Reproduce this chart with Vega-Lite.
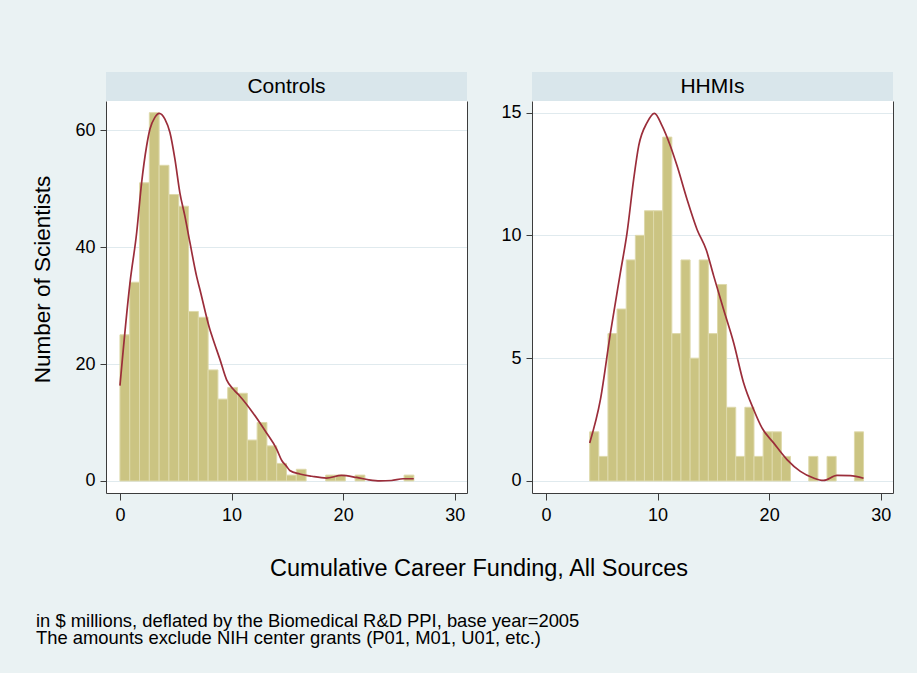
{
  "$schema": "https://vega.github.io/schema/vega-lite/v6.json",
  "background": "#EAF2F3",
  "padding": {"left": 31, "top": 72, "right": 24, "bottom": 26},
  "datasets": {
    "ctrl_bins": [
      {"x0": 0, "x1": 0.878, "count": 25}, {"x0": 0.878, "x1": 1.756, "count": 34},
      {"x0": 1.756, "x1": 2.634, "count": 51}, {"x0": 2.634, "x1": 3.512, "count": 63},
      {"x0": 3.512, "x1": 4.39, "count": 54}, {"x0": 4.39, "x1": 5.268, "count": 49},
      {"x0": 5.268, "x1": 6.146, "count": 47}, {"x0": 6.146, "x1": 7.024, "count": 29},
      {"x0": 7.024, "x1": 7.902, "count": 28}, {"x0": 7.902, "x1": 8.78, "count": 19},
      {"x0": 8.78, "x1": 9.658, "count": 14}, {"x0": 9.658, "x1": 10.536, "count": 16},
      {"x0": 10.536, "x1": 11.414, "count": 15}, {"x0": 11.414, "x1": 12.292, "count": 7},
      {"x0": 12.292, "x1": 13.17, "count": 10}, {"x0": 13.17, "x1": 14.048, "count": 6},
      {"x0": 14.048, "x1": 14.926, "count": 3}, {"x0": 14.926, "x1": 15.804, "count": 1},
      {"x0": 15.804, "x1": 16.682, "count": 2}, {"x0": 18.438, "x1": 19.316, "count": 1},
      {"x0": 19.316, "x1": 20.194, "count": 1}, {"x0": 21.072, "x1": 21.95, "count": 1},
      {"x0": 25.462, "x1": 26.34, "count": 1}
    ],
    "hhmi_bins": [
      {"x0": 3.92, "x1": 4.738, "count": 2}, {"x0": 4.738, "x1": 5.556, "count": 1},
      {"x0": 5.556, "x1": 6.374, "count": 6}, {"x0": 6.374, "x1": 7.192, "count": 7},
      {"x0": 7.192, "x1": 8.01, "count": 9}, {"x0": 8.01, "x1": 8.828, "count": 10},
      {"x0": 8.828, "x1": 9.646, "count": 11}, {"x0": 9.646, "x1": 10.464, "count": 11},
      {"x0": 10.464, "x1": 11.282, "count": 14}, {"x0": 11.282, "x1": 12.1, "count": 6},
      {"x0": 12.1, "x1": 12.918, "count": 9}, {"x0": 12.918, "x1": 13.736, "count": 5},
      {"x0": 13.736, "x1": 14.554, "count": 9}, {"x0": 14.554, "x1": 15.372, "count": 6},
      {"x0": 15.372, "x1": 16.19, "count": 8}, {"x0": 16.19, "x1": 17.008, "count": 3},
      {"x0": 17.008, "x1": 17.826, "count": 1}, {"x0": 17.826, "x1": 18.644, "count": 3},
      {"x0": 18.644, "x1": 19.462, "count": 1}, {"x0": 19.462, "x1": 20.28, "count": 2},
      {"x0": 20.28, "x1": 21.098, "count": 2}, {"x0": 21.098, "x1": 21.916, "count": 1},
      {"x0": 23.552, "x1": 24.37, "count": 1}, {"x0": 25.188, "x1": 26.006, "count": 1},
      {"x0": 27.642, "x1": 28.46, "count": 2}
    ],
    "ctrl_kd": [
      {"x": 0.0, "density": 16.3}, {"x": 0.9, "density": 33.9}, {"x": 1.5, "density": 42.5},
      {"x": 1.94, "density": 51.0}, {"x": 2.39, "density": 57.3}, {"x": 2.69, "density": 60.2},
      {"x": 3.13, "density": 62.2}, {"x": 3.52, "density": 62.9}, {"x": 4.03, "density": 61.9},
      {"x": 4.48, "density": 59.6}, {"x": 4.93, "density": 55.0}, {"x": 5.37, "density": 49.3},
      {"x": 5.82, "density": 45.3}, {"x": 6.27, "density": 40.8}, {"x": 6.87, "density": 35.0},
      {"x": 7.16, "density": 32.8}, {"x": 8.06, "density": 25.9}, {"x": 8.35, "density": 24.2},
      {"x": 8.96, "density": 20.8}, {"x": 9.56, "density": 17.3}, {"x": 10.2, "density": 15.6},
      {"x": 10.75, "density": 14.5}, {"x": 11.94, "density": 11.6}, {"x": 13.14, "density": 8.2},
      {"x": 14.03, "density": 5.5}, {"x": 14.5, "density": 3.5}, {"x": 14.93, "density": 2.5},
      {"x": 15.22, "density": 1.8}, {"x": 16.12, "density": 1.2}, {"x": 17.2, "density": 0.8},
      {"x": 18.5, "density": 0.5}, {"x": 19.85, "density": 0.95}, {"x": 21.2, "density": 0.6},
      {"x": 22.3, "density": 0.2}, {"x": 23.3, "density": 0.02}, {"x": 24.33, "density": 0.08},
      {"x": 25.37, "density": 0.38}, {"x": 26.33, "density": 0.38}
    ],
    "hhmi_kd": [
      {"x": 3.92, "density": 1.55}, {"x": 4.88, "density": 3.31}, {"x": 5.78, "density": 6.03},
      {"x": 6.67, "density": 8.48}, {"x": 7.27, "density": 10.11}, {"x": 7.86, "density": 12.28},
      {"x": 8.31, "density": 13.64}, {"x": 9.06, "density": 14.59}, {"x": 9.72, "density": 14.97},
      {"x": 10.41, "density": 14.46}, {"x": 11.15, "density": 13.64}, {"x": 11.75, "density": 12.83},
      {"x": 12.64, "density": 11.47}, {"x": 13.54, "density": 10.24}, {"x": 14.37, "density": 9.4},
      {"x": 15.03, "density": 8.35}, {"x": 15.92, "density": 6.98}, {"x": 16.82, "density": 5.63},
      {"x": 17.71, "density": 4.0}, {"x": 18.61, "density": 2.91}, {"x": 19.36, "density": 2.16},
      {"x": 20.4, "density": 1.55}, {"x": 21.6, "density": 0.87}, {"x": 22.8, "density": 0.39},
      {"x": 23.98, "density": 0.12}, {"x": 24.88, "density": 0.02}, {"x": 26.08, "density": 0.23},
      {"x": 27.27, "density": 0.22}, {"x": 28.46, "density": 0.11}
    ]
  },
  "title": {
    "text": ["in $ millions, deflated by the Biomedical R&D PPI, base year=2005", "The amounts exclude NIH center grants (P01, M01, U01, etc.)"],
    "orient": "bottom", "anchor": "start", "fontSize": 18.4, "fontWeight": "normal",
    "font": "Liberation Sans", "color": "#000000", "lineHeight": 17, "offset": 28, "dx": 4
  },
  "spacing": 30,
  "vconcat": [
    {
      "spacing": 33,
      "hconcat": [
        {
          "spacing": 0,
          "vconcat": [
            {
              "width": 361, "height": 29,
              "view": {"fill": "#D9E6EB", "stroke": null},
              "data": {"values": [{"panel": "Controls"}]},
              "mark": {"type": "text", "fontSize": 21, "font": "Liberation Sans", "color": "#000000", "baseline": "middle"},
              "encoding": {"text": {"field": "panel"}}
            },
            {
              "width": 361, "height": 392,
              "view": {"fill": "#FFFFFF", "stroke": null},
              "resolve": {"axis": {"y": "independent"}},
              "layer": [
                {
                  "data": {"name": "ctrl_bins"},
                  "mark": {"type": "bar", "fill": "#CBC482", "stroke": "#DED9AB", "strokeWidth": 1},
                  "encoding": {
                    "x": {"field": "x0", "type": "quantitative",
                          "scale": {"domain": [-1.25, 31.1], "nice": false, "zero": false},
                          "axis": {"values": [0, 10, 20, 30], "grid": false, "tickSize": 7, "labelFontSize": 18, "labelPadding": 6, "title": null}},
                    "x2": {"field": "x1"},
                    "y": {"field": "count", "type": "quantitative",
                          "scale": {"domain": [-2.06, 65.0], "nice": false, "zero": false},
                          "axis": {"orient": "left", "values": [0, 20, 40, 60], "grid": true, "tickSize": 6, "labelFontSize": 18, "labelPadding": 5,
                                   "title": "Number of Scientists", "titleFontSize": 22.5, "titlePadding": 20, "titleY": 178}},
                    "y2": {"datum": 0}
                  }
                },
                {
                  "data": {"name": "ctrl_kd"},
                  "mark": {"type": "line", "color": "#9B2D3A", "strokeWidth": 1.7, "interpolate": "monotone"},
                  "encoding": {
                    "x": {"field": "x", "type": "quantitative"},
                    "y": {"field": "density", "type": "quantitative",
                          "axis": {"orient": "right", "labels": false, "ticks": false, "grid": false, "title": null}}
                  }
                }
              ]
            }
          ]
        },
        {
          "spacing": 0,
          "vconcat": [
            {
              "width": 361, "height": 29,
              "view": {"fill": "#D9E6EB", "stroke": null},
              "data": {"values": [{"panel": "HHMIs"}]},
              "mark": {"type": "text", "fontSize": 21, "font": "Liberation Sans", "color": "#000000", "baseline": "middle"},
              "encoding": {"text": {"field": "panel"}}
            },
            {
              "width": 361, "height": 392,
              "view": {"fill": "#FFFFFF", "stroke": null},
              "resolve": {"axis": {"y": "independent"}},
              "layer": [
                {
                  "data": {"name": "hhmi_bins"},
                  "mark": {"type": "bar", "fill": "#CBC482", "stroke": "#DED9AB", "strokeWidth": 1},
                  "encoding": {
                    "x": {"field": "x0", "type": "quantitative",
                          "scale": {"domain": [-1.25, 31.1], "nice": false, "zero": false},
                          "axis": {"values": [0, 10, 20, 30], "grid": false, "tickSize": 7, "labelFontSize": 18, "labelPadding": 6, "title": null}},
                    "x2": {"field": "x1"},
                    "y": {"field": "count", "type": "quantitative",
                          "scale": {"domain": [-0.49, 15.47], "nice": false, "zero": false},
                          "axis": {"orient": "left", "values": [0, 5, 10, 15], "grid": true, "tickSize": 6, "labelFontSize": 18, "labelPadding": 5, "title": null}},
                    "y2": {"datum": 0}
                  }
                },
                {
                  "data": {"name": "hhmi_kd"},
                  "mark": {"type": "line", "color": "#9B2D3A", "strokeWidth": 1.7, "interpolate": "monotone"},
                  "encoding": {
                    "x": {"field": "x", "type": "quantitative"},
                    "y": {"field": "density", "type": "quantitative",
                          "axis": {"orient": "right", "labels": false, "ticks": false, "grid": false, "title": null}}
                  }
                }
              ]
            }
          ]
        }
      ]
    },
    {
      "width": 746, "height": 30,
      "view": {"fill": null, "stroke": null},
      "data": {"values": [{"label": "Cumulative Career Funding, All Sources"}]},
      "mark": {"type": "text", "fontSize": 23.5, "font": "Liberation Sans", "color": "#000000", "baseline": "middle"},
      "encoding": {"text": {"field": "label"}}
    }
  ],
  "config": {
    "font": "Liberation Sans",
    "axis": {
      "labelFont": "Liberation Sans", "titleFont": "Liberation Sans",
      "labelColor": "#000000", "titleColor": "#000000", "titleFontWeight": "normal",
      "domainColor": "#3C3C3C", "tickColor": "#3C3C3C", "domainWidth": 1, "tickWidth": 1,
      "gridColor": "#E0EAEE", "gridWidth": 1
    },
    "title": {"font": "Liberation Sans"}
  }
}
